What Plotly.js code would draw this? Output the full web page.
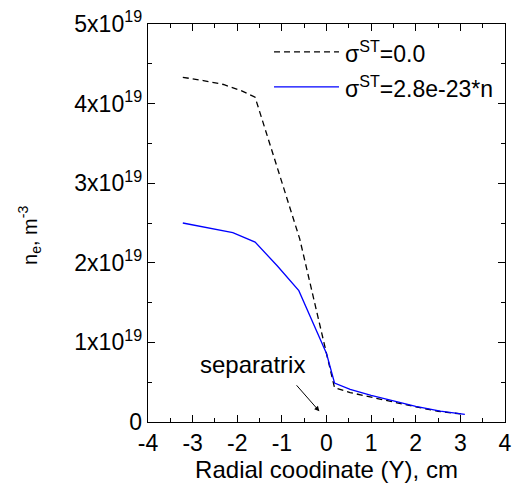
<!DOCTYPE html>
<html>
<head>
<meta charset="utf-8">
<script src="https://cdn.plot.ly/plotly-3.0.1.min.js"></script>
<style>html,body{margin:0;padding:0;background:#fff;}#chart{width:512px;height:489px;}</style>
</head>
<body>
<div id="chart"></div>
<script>
// Radial coordinate (cm) and electron density (m^-3)
var xZero = [-3.22, -2.76, -2.31, -1.9, -1.6, -0.6, 0.0, 0.18, 0.53, 1.0, 1.5, 2.0, 2.5, 3.1];
var nZero = [4.33e19, 4.29e19, 4.24e19, 4.16e19, 4.08e19, 2.30e19, 0.86e19, 0.43e19, 0.37e19, 0.31e19, 0.25e19, 0.19e19, 0.135e19, 0.095e19];
var xST = [-3.22, -2.1, -1.6, -1.1, -0.62, 0.0, 0.18, 0.53, 1.0, 1.5, 2.0, 2.55, 3.1];
var nST = [2.50e19, 2.38e19, 2.26e19, 1.96e19, 1.65e19, 0.86e19, 0.49e19, 0.41e19, 0.335e19, 0.265e19, 0.197e19, 0.138e19, 0.097e19];
var yTickVals = [0, 1e19, 2e19, 3e19, 4e19, 5e19];
var yTickText = ['0', '1x10<sup>19</sup>', '2x10<sup>19</sup>', '3x10<sup>19</sup>', '4x10<sup>19</sup>', '5x10<sup>19</sup>'];
var xTickVals = [-4, -3, -2, -1, 0, 1, 2, 3, 4];
var legendNames = ['σ<sup>ST</sup>=0.0', 'σ<sup>ST</sup>=2.8e-23*n'];

var FONT = 'Liberation Sans, Arial, sans-serif';

var traces = [
  {x: xZero, y: nZero, mode: 'lines', name: legendNames[0], showlegend: false,
   line: {color: '#000000', width: 1.3, dash: '6px,4px'}},
  {x: xST, y: nST, mode: 'lines', name: legendNames[1], showlegend: false,
   line: {color: '#0000ff', width: 1.3}}
];

var layout = {
  width: 512, height: 489,
  margin: {l: 148, r: 7, t: 24, b: 67},
  paper_bgcolor: '#ffffff', plot_bgcolor: '#ffffff',
  font: {family: FONT, size: 23, color: '#000'},
  showlegend: false,
  xaxis: {
    range: [-4, 4], tickvals: xTickVals, ticktext: xTickVals.map(String),
    ticks: 'inside', ticklen: 7, tickwidth: 1, tickcolor: '#000',
    showline: true, linecolor: '#000', linewidth: 1.3, mirror: 'ticks',
    showgrid: false, zeroline: false, automargin: false,
    tickfont: {family: FONT, size: 23},
    minor: {dtick: 0.5, ticks: 'inside', ticklen: 4, tickcolor: '#000', showgrid: false},
    title: {text: 'Radial coodinate (Y), cm', font: {family: FONT, size: 24}, standoff: 6}
  },
  yaxis: {
    range: [0, 5e19], tickvals: yTickVals, ticktext: yTickText,
    ticks: 'inside', ticklen: 7, tickwidth: 1, tickcolor: '#000',
    showline: true, linecolor: '#000', linewidth: 1.3, mirror: 'ticks',
    showgrid: false, zeroline: false, automargin: false,
    tickfont: {family: FONT, size: 23},
    minor: {dtick: 0.5e19, ticks: 'inside', ticklen: 4, tickcolor: '#000', showgrid: false}
  },
  shapes: [
    {type: 'line', xref: 'paper', yref: 'paper', x0: 0.353, x1: 0.535, y0: 0.93, y1: 0.93,
     line: {color: '#000', width: 1.3, dash: '6px,4px'}},
    {type: 'line', xref: 'paper', yref: 'paper', x0: 0.353, x1: 0.535, y0: 0.842, y1: 0.842,
     line: {color: '#0000ff', width: 1.3}}
  ],
  annotations: [
    {xref: 'paper', yref: 'paper', x: -0.33, y: 0.468, xanchor: 'center', yanchor: 'middle',
     textangle: -90, text: 'n<sub>e</sub>, m<sup>-3</sup>', showarrow: false,
     font: {family: FONT, size: 20}},
    {xref: 'paper', yref: 'paper', x: 0.547, y: 0.93, xanchor: 'left', yanchor: 'middle',
     text: legendNames[0], showarrow: false, font: {family: FONT, size: 23}},
    {xref: 'paper', yref: 'paper', x: 0.547, y: 0.842, xanchor: 'left', yanchor: 'middle',
     text: legendNames[1], showarrow: false, font: {family: FONT, size: 23}},
    {xref: 'x', yref: 'y', x: -1.65, y: 0.72e19, text: 'separatrix', showarrow: false,
     font: {family: FONT, size: 24}},
    {xref: 'x', yref: 'y', x: -0.16, y: 0.135e19, axref: 'x', ayref: 'y', ax: -0.70, ay: 0.48e19,
     text: '', showarrow: true, arrowhead: 2, arrowsize: 1, arrowwidth: 1, arrowcolor: '#000', standoff: 0}
  ]
};

Plotly.newPlot('chart', traces, layout, {staticPlot: true, displayModeBar: false});
</script>
</body>
</html>
